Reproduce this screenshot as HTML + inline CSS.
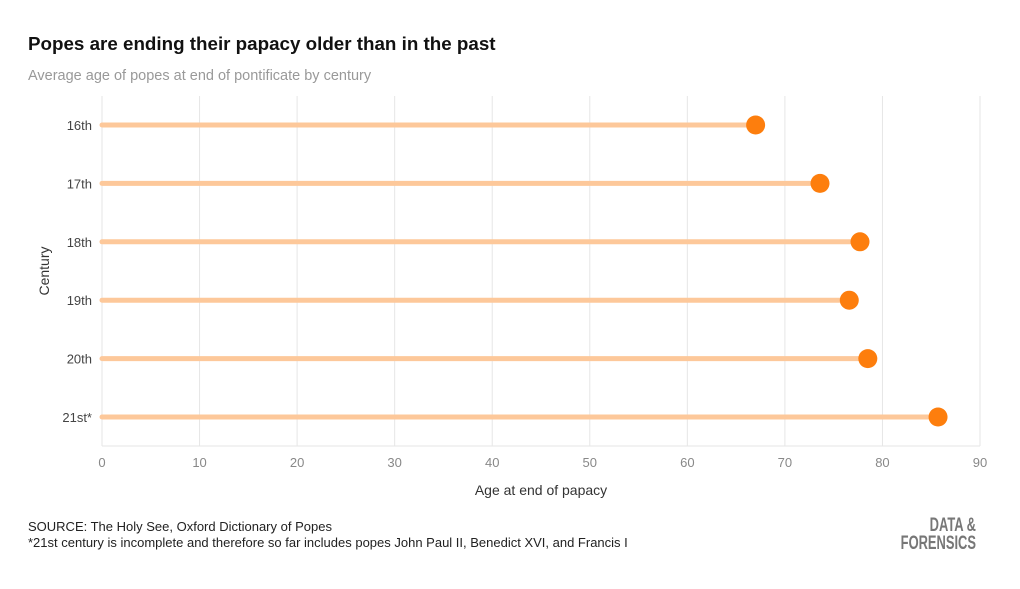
<!DOCTYPE html>
<html><head><meta charset="utf-8"><style>
body{margin:0;width:1020px;height:584px;background:#fff;font-family:"Liberation Sans",sans-serif;overflow:hidden}
svg text{font-family:"Liberation Sans",sans-serif}
</style></head><body>
<svg id="c" width="1020" height="584" xmlns="http://www.w3.org/2000/svg">
<text x="28" y="50" font-size="18.8" font-weight="bold" fill="#111">Popes are ending their papacy older than in the past</text>
<text x="28" y="80" font-size="14.5" fill="#999">Average age of popes at end of pontificate by century</text>
<g id="grid"></g><g id="marks"></g>
<text x="541" y="495" font-size="14" fill="#333" text-anchor="middle">Age at end of papacy</text>
<text transform="translate(49,271) rotate(-90)" font-size="14" fill="#333" text-anchor="middle">Century</text>
<text x="28" y="531" font-size="13" fill="#222">SOURCE: The Holy See, Oxford Dictionary of Popes</text>
<text x="28" y="547" font-size="13" fill="#222">*21st century is incomplete and therefore so far includes popes John Paul II, Benedict XVI, and Francis I</text>
<g transform="translate(976,0) scale(0.68,1)">
<text x="0" y="531" font-size="19" font-weight="bold" fill="#777" text-anchor="end">DATA &amp;</text>
<text x="0" y="549" font-size="19" font-weight="bold" fill="#777" text-anchor="end">FORENSICS</text>
</g>
</svg>
<script>
const categories=["16th","17th","18th","19th","20th","21st*"];
const values=[67,73.6,77.7,76.6,78.5,85.7];
const xTicks=[0,10,20,30,40,50,60,70,80,90];
const NS="http://www.w3.org/2000/svg";
const x=v=>102+v*(878/90);
const y=i=>125+i*58.4;
const grid=document.getElementById('grid'),marks=document.getElementById('marks');
function mk(tag,at,p){const e=document.createElementNS(NS,tag);for(const k in at)e.setAttribute(k,at[k]);p.appendChild(e);return e;}
xTicks.forEach(t=>{
 const l=mk('line',{x1:x(t),x2:x(t),y1:96,y2:446,stroke:'#e6e6e6','stroke-width':1},grid);
 
 
 const tx=mk('text',{x:x(t),y:467,'font-size':13,fill:'#888','text-anchor':'middle'},grid);
 tx.textContent=t;
 
 
});
mk('line',{x1:102,x2:980,y1:446,y2:446,stroke:'#e6e6e6'},grid);
categories.forEach((c,i)=>{
 const tx=mk('text',{x:92,y:y(i)+5,'font-size':13,fill:'#444','text-anchor':'end'},grid);
 tx.textContent=c;
 
 
 const l=mk('line',{x1:x(0),x2:x(values[i]),y1:y(i),y2:y(i),stroke:'#fdc89a','stroke-width':5,'stroke-linecap':'round'},marks);
 
 
 const d=mk('circle',{cx:x(values[i]),cy:y(i),r:9.5,fill:'#fd7e0d'},marks);
 
 
});
</script>
</body></html>
